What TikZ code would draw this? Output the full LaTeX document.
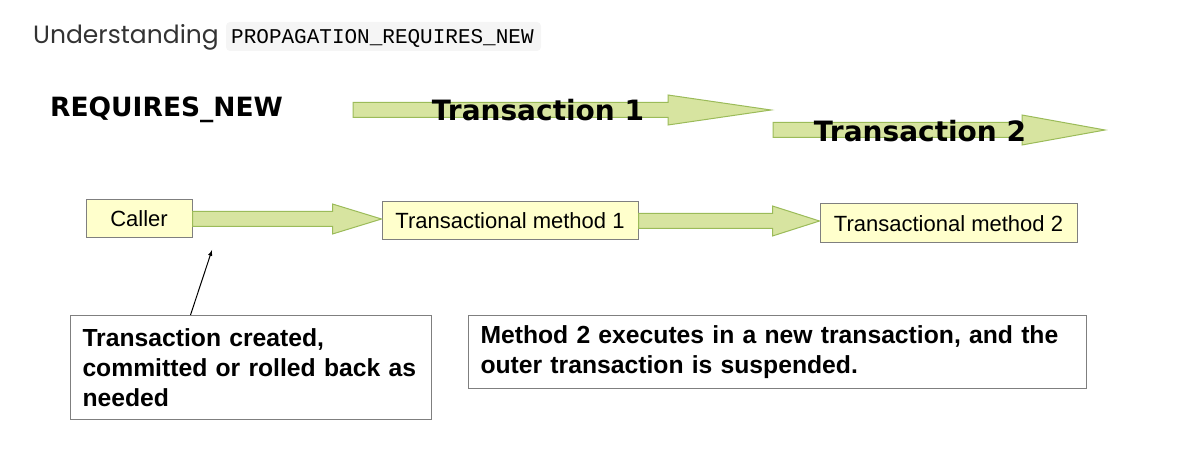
\documentclass[tikz,border=0pt]{standalone}
\usepackage{fontspec}
\setmainfont{Liberation Sans}
\setmonofont{Liberation Mono}
\newfontfamily\headfont{Poppins}
\newfontfamily\verdb{DejaVu Sans}
\usetikzlibrary{positioning}
\usetikzlibrary{calc}

\definecolor{arrowfill}{HTML}{D7E4A0}
\definecolor{arrowline}{HTML}{9BBB59}
\definecolor{boxfill}{HTML}{FFFFCC}
\definecolor{boxline}{HTML}{7F7F7F}
\definecolor{codebg}{HTML}{F5F5F5}

\tikzset{
  method/.style={draw=boxline, fill=boxfill, line width=1pt, inner sep=0pt, font=\fontsize{22}{26}\selectfont},
  note/.style={draw=boxline, fill=white, line width=1pt, align=left, anchor=north west, inner xsep=12pt, inner ysep=6pt, font=\fontsize{24.7}{30}\selectfont\bfseries},
  flow/.style={fill=arrowfill, draw=arrowline, line width=1pt, line join=miter},
  banner/.style={font=\verdb\bfseries\fontsize{28}{32}\selectfont},
}

% fat arrow: start, end, half shaft, head length
\newcommand\fatarrow[4]{%
  \filldraw[flow] let \p1=#1, \p2=#2 in
    (\x1,\y1+#3) -- (\x2-#4,\y1+#3) -- (\x2-#4,\y1+2*#3) -- (\x2,\y1)
    -- (\x2-#4,\y1-2*#3) -- (\x2-#4,\y1-#3) -- (\x1,\y1-#3) -- cycle;}

\begin{document}
\begin{tikzpicture}[x=1pt,y=-1pt]
  \useasboundingbox (0,0) rectangle (1196,454);

  \node[anchor=base west, text=black!80, font=\headfont\fontsize{25}{30}\selectfont, inner sep=0pt] (title) at (33,44) {Understanding};
  \fill[codebg, rounded corners=4pt] (226,22) rectangle (541,51);
  \node[anchor=base west, font=\ttfamily\fontsize{21}{24}\selectfont, inner sep=0pt] (code) at (231,44) {PROPAGATION\_REQUIRES\_NEW};

  \node[anchor=base west, font=\verdb\bfseries\fontsize{26.5}{30}\selectfont, inner sep=0pt] (mode) at (50,117) {REQUIRES\_NEW};

  % transaction banners
  \coordinate (t1s) at (353,110);
  \coordinate (t1e) at (771,110);
  \coordinate (t2s) at (773,130);
  \coordinate (t2e) at (1105,130);
  \fatarrow{(t1s)}{(t1e)}{7.5pt}{103pt}
  \fatarrow{(t2s)}{(t2e)}{7.5pt}{83pt}
  \node[banner] (tx1) at (538,110) {Transaction 1};
  \node[banner] (tx2) at (920,131) {Transaction 2};

  % call chain
  \node[method, minimum width=106pt, minimum height=38pt] (caller) at (139,219) {Caller};
  \node[method, minimum width=256pt, minimum height=38pt] (tm1) at (510,221) {Transactional method 1};
  \node[method, minimum width=257pt, minimum height=39pt] (tm2) at (948.5,223.5) {Transactional method 2};
  \fatarrow{(caller.east)}{(tm1.west)}{7.5pt}{49pt}
  \fatarrow{(tm1.east)}{(tm2.west)}{7.5pt}{47pt}

  % notes
  \node[note, text width=337pt, minimum height=104pt] (created) at (70,315) {Transaction created,\\committed or rolled back as\\needed};
  \node[note, text width=594pt, minimum height=73pt] (suspend) at (468,315) {Method 2 executes in a new transaction, and the\\outer transaction is suspended.};

  \coordinate (pointat) at (212,250);
  \draw[-latex, line width=1pt] ([xshift=-60.5pt]created.north) -- (pointat);
\end{tikzpicture}
\end{document}
